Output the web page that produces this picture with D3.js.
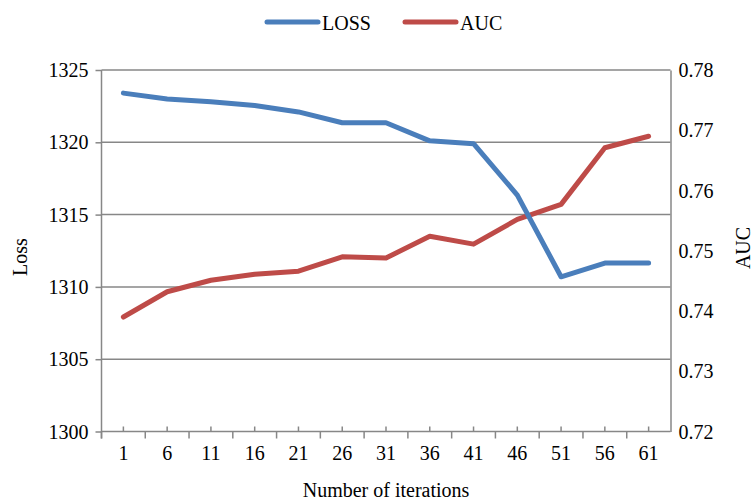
<!DOCTYPE html>
<html>
<head>
<meta charset="utf-8">
<script src="https://cdn.jsdelivr.net/npm/d3@7"></script>
<style>
  body { margin: 0; background: #fff; }
  svg text { font-family: "Liberation Serif", "Times New Roman", serif; fill: #000; }
</style>
</head>
<body>
<svg width="754" height="500"></svg>
<script>
// data
var iterations = ["1", "6", "11", "16", "21", "26", "31", "36", "41", "46", "51", "56", "61"];
var lossValues = [1323.4, 1323.0, 1322.8, 1322.55, 1322.1, 1321.35, 1321.35, 1320.1, 1319.9, 1316.35, 1310.7, 1311.65, 1311.65];
var aucValues = [0.739, 0.7432, 0.7451, 0.7461, 0.7466, 0.749, 0.7488, 0.7524, 0.7511, 0.7552, 0.7577, 0.7671, 0.769];
var lossTicks = [1300, 1305, 1310, 1315, 1320, 1325];
var aucTicks = [0.72, 0.73, 0.74, 0.75, 0.76, 0.77, 0.78];
var seriesNames = ["LOSS", "AUC"];

var blue = "#4a7ebb",
    red = "#be4b48",
    gridColor = "#878787",
    serif = "'Liberation Serif', 'Times New Roman', serif",
    fontSize = 20;

var svg = d3.select("svg"),
    margin = {top: 70, right: 83.5, bottom: 68.5, left: 101.5},
    width = +svg.attr("width") - margin.left - margin.right,
    height = +svg.attr("height") - margin.top - margin.bottom;

var x = d3.scaleBand().domain(iterations).range([0, width]),
    y = d3.scaleLinear().domain([1300, 1325]).range([height, 0]),
    y2 = d3.scaleLinear().domain([0.72, 0.78]).range([height, 0]);

var g = svg.append("g")
    .attr("transform", "translate(" + margin.left + "," + margin.top + ")");

// horizontal gridlines (loss ticks)
g.selectAll(".grid")
  .data(lossTicks.slice(1))
  .enter().append("line")
    .attr("class", "grid")
    .attr("x1", 0).attr("x2", width)
    .attr("y1", function(d) { return y(d); })
    .attr("y2", function(d) { return y(d); })
    .attr("stroke", gridColor)
    .attr("stroke-width", 1.5);

// left axis
var yAxis = g.append("g")
    .call(d3.axisLeft(y).tickValues(lossTicks).tickSize(6).tickPadding(7)
      .tickFormat(d3.format("d")))
    .attr("font-family", serif)
    .attr("font-size", fontSize);
yAxis.select(".domain").attr("stroke", gridColor).attr("stroke-width", 1.5)
    .attr("d", "M0," + (height + 7) + "V0");
yAxis.selectAll(".tick line").attr("stroke", gridColor).attr("stroke-width", 1.5);
yAxis.selectAll(".tick text").attr("dy", "0.33em");

// right axis (labels only, no tick marks)
var y2Axis = g.append("g")
    .attr("transform", "translate(" + width + ",0)")
    .call(d3.axisRight(y2).tickValues(aucTicks).tickSize(0).tickPadding(8)
      .tickFormat(d3.format(".2f")))
    .attr("font-family", serif)
    .attr("font-size", fontSize);
y2Axis.select(".domain").attr("stroke", gridColor).attr("stroke-width", 1.5);
y2Axis.selectAll(".tick text").attr("dy", "0.33em");

// bottom axis: inner ticks at category centres, outer ticks at boundaries
var xAxis = g.append("g")
    .attr("transform", "translate(0," + height + ")")
    .call(d3.axisBottom(x).tickSize(-5).tickPadding(14))
    .attr("font-family", serif)
    .attr("font-size", fontSize);
xAxis.select(".domain").attr("stroke", gridColor).attr("stroke-width", 1.5)
    .attr("d", "M0,0H" + width);
xAxis.selectAll(".tick line").attr("stroke", gridColor).attr("stroke-width", 1.5);

xAxis.selectAll(".bound")
  .data(iterations)
  .enter().append("line")
    .attr("class", "bound")
    .attr("x1", function(d) { return x(d); })
    .attr("x2", function(d) { return x(d); })
    .attr("y1", 0).attr("y2", 7)
    .attr("stroke", gridColor)
    .attr("stroke-width", 1.5);

// lines
var lossLine = d3.line()
    .x(function(d, i) { return x(iterations[i]) + x.bandwidth() / 2; })
    .y(function(d) { return y(d); });
var aucLine = d3.line()
    .x(function(d, i) { return x(iterations[i]) + x.bandwidth() / 2; })
    .y(function(d) { return y2(d); });

g.append("path")
    .datum(aucValues)
    .attr("fill", "none")
    .attr("stroke", red)
    .attr("stroke-width", 5)
    .attr("stroke-linejoin", "round")
    .attr("stroke-linecap", "round")
    .attr("d", aucLine);

g.append("path")
    .datum(lossValues)
    .attr("fill", "none")
    .attr("stroke", blue)
    .attr("stroke-width", 5)
    .attr("stroke-linejoin", "round")
    .attr("stroke-linecap", "round")
    .attr("d", lossLine);

// axis titles
svg.append("text")
    .attr("transform", "translate(26.5,257) rotate(-90)")
    .attr("text-anchor", "middle")
    .attr("font-size", fontSize)
    .text("Loss");
svg.append("text")
    .attr("transform", "translate(750,248) rotate(-90)")
    .attr("text-anchor", "middle")
    .attr("font-size", fontSize)
    .text("AUC");
svg.append("text")
    .attr("x", margin.left + width / 2)
    .attr("y", 497)
    .attr("text-anchor", "middle")
    .attr("font-size", fontSize)
    .text("Number of iterations");

// legend
var legendData = [{name: seriesNames[0], color: blue, x: 267},
                  {name: seriesNames[1], color: red, x: 405}];
var legend = svg.append("g").attr("class", "legend");
legend.selectAll("line")
  .data(legendData)
  .enter().append("line")
    .attr("x1", function(d) { return d.x; })
    .attr("x2", function(d) { return d.x + 51; })
    .attr("y1", 22).attr("y2", 22)
    .attr("stroke", function(d) { return d.color; })
    .attr("stroke-width", 5)
    .attr("stroke-linecap", "round");
legend.selectAll("text")
  .data(legendData)
  .enter().append("text")
    .attr("x", function(d) { return d.x + 55; })
    .attr("y", 30)
    .attr("font-size", fontSize)
    .text(function(d) { return d.name; });
</script>
</body>
</html>
